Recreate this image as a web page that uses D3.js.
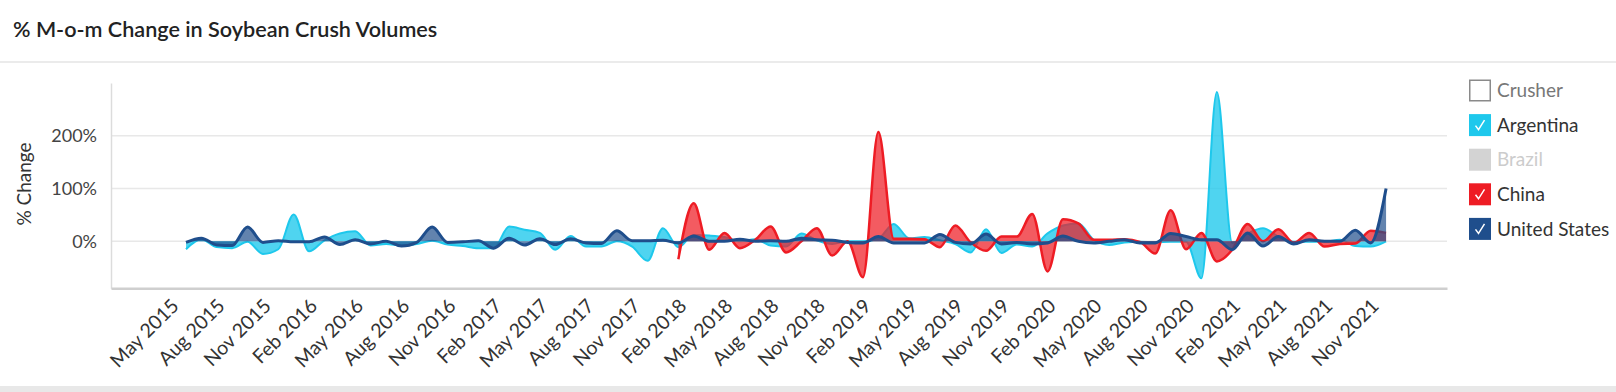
<!DOCTYPE html>
<html><head><meta charset="utf-8">
<script src="https://cdn.jsdelivr.net/npm/d3@7/dist/d3.min.js"></script>
<style>
html,body{margin:0;padding:0;background:#fff;overflow:hidden}
svg{display:block;font-family:Lato,"Open Sans",sans-serif}
</style></head><body>
<svg id="chart" width="1616" height="392"></svg>
<script>
// Month index 0 = Jun 2015, 78 = Dec 2021
const argentina = [-15,4,-11,-13,-1,-24,-15,51,-19,2,15,19,-8,-5,-8,-5,1,-6,-9,-13,-13,28,22,16,-16,10,-10,-10,
  0,-10,-37,25,-11,12,11,8,0,4,-8,-10,15,2,-5,0,0,5,33,6,8,2,-5,-21,23,-22,-6,-10,15,30,34,3,-7,-2,-1,-2,-1,-1,-70,283,-3,15,25,9,-1,-1,-1,3,-9,-10,0];
const unitedStates = [-2,6,-7,-8,27,-2,1,-1,-1,8,-6,3,-5,0,-9,-2,27,-2,-1,1,-13,6,-7,5,-6,5,-3,-4,
  20,1,1,2,-3,10,0,0,4,0,1,0,6,3,2,-2,-3,9,-3,-3,-3,13,-2,-5,14,-5,-2,-5,-3,10,0,-3,0,3,-3,-3,15,9,3,3,-16,16,-9,9,-5,3,0,0,21,-3,100];
const chinaStart = 32; // Feb 2018
const china = [-34,72,-16,16,-13,3,28,-21,0,25,-27,0,-68,207,5,5,4,-11,30,-2,-18,9,9,52,-57,42,34,3,3,4,-1,-23,59,-15,16,-38,-16,33,0,23,-3,16,-10,-5,-4,20,16];
const xTickLabels = ["May 2015","Aug 2015","Nov 2015","Feb 2016","May 2016","Aug 2016","Nov 2016","Feb 2017","May 2017","Aug 2017","Nov 2017",
  "Feb 2018","May 2018","Aug 2018","Nov 2018","Feb 2019","May 2019","Aug 2019","Nov 2019","Feb 2020","May 2020","Aug 2020","Nov 2020",
  "Feb 2021","May 2021","Aug 2021","Nov 2021"];
const xTickIndex = xTickLabels.map((d,i)=> -1 + 3*i);
const yTicks = [0,100,200];
const legendNames = ["Crusher","Argentina","Brazil","China","United States"];
const legendColors = [null,"#1ec8ec","#d3d3d3","#ee1c24","#1f4e8c"];

const svg = d3.select("#chart");
const W = 1616, H = 392;

// title & frame
svg.append("text").attr("x",13).attr("y",37).attr("font-size",21.6).attr("font-weight",600)
  .attr("fill","#222").text("% M-o-m Change in Soybean Crush Volumes");
svg.append("rect").attr("x",0).attr("y",61).attr("width",W).attr("height",2).attr("fill","#ebebeb");
svg.append("rect").attr("x",0).attr("y",386).attr("width",W).attr("height",6).attr("fill","#e8e8e8");

const x = d3.scaleLinear().domain([-4.875, 81.96]).range([111, 1447]);
const y = d3.scaleLinear().domain([-89, 300]).range([288.3, 83]);

// gridlines
svg.append("g").selectAll("line").data(yTicks).join("line")
  .attr("x1",111).attr("x2",1447).attr("y1",d=>y(d)).attr("y2",d=>y(d))
  .attr("stroke","#e8e8e8").attr("stroke-width",1.5);

// y axis
const gy = svg.append("g").attr("transform","translate(111,0)")
  .call(d3.axisLeft(y).tickValues(yTicks).tickFormat(d=>d+"%").tickSize(0).tickPadding(14));
gy.select(".domain").attr("stroke","#dcdcdc").attr("stroke-width",1.5);
gy.selectAll("text").attr("font-size",18).attr("fill","#444").attr("font-family","Lato");

svg.append("text").attr("transform","translate(31,184) rotate(-90)").attr("text-anchor","middle")
  .attr("font-size",19).attr("fill","#333").text("% Change");

// x axis
const gx = svg.append("g").attr("transform","translate(0,288.3)")
  .call(d3.axisBottom(x).tickValues(xTickIndex).tickFormat((d,i)=>xTickLabels[i]).tickSize(0));
gx.select(".domain").attr("stroke","#cfcfcf").attr("stroke-width",2.5);
gx.selectAll("text").attr("font-size",19.5).attr("fill","#333").attr("font-family","Lato")
  .attr("text-anchor","end").attr("y",0).attr("dy","0.35em")
  .attr("transform","translate(4,14) rotate(-45)");

// series
function series(values, offset, color, lw, op){
  const data = values.map((v,i)=>({i:i+offset, v}));
  const area = d3.area().curve(d3.curveMonotoneX).x(d=>x(d.i)).y0(y(0)).y1(d=>y(d.v));
  const line = d3.line().curve(d3.curveMonotoneX).x(d=>x(d.i)).y(d=>y(d.v));
  svg.append("path").datum(data).attr("d",area).attr("fill",color).attr("fill-opacity",op);
  svg.append("path").datum(data).attr("d",line).attr("fill","none").attr("stroke",color)
    .attr("stroke-width",lw).attr("stroke-linejoin","round");
}
series(argentina, 0, legendColors[1], 2, 0.78);
series(china, chinaStart, legendColors[3], 2.5, 0.72);
series(unitedStates, 0, legendColors[4], 3, 0.7);

// legend
const lg = svg.append("g").selectAll("g").data(legendNames).join("g")
  .attr("transform",(d,i)=>`translate(1469,${79.5 + i*34.6})`);
lg.append("rect").attr("x",(d,i)=>i===0?0.75:0).attr("y",(d,i)=>i===0?0.75:0)
  .attr("width",(d,i)=>i===0?20.5:22).attr("height",(d,i)=>i===0?20.5:22)
  .attr("fill",(d,i)=>legendColors[i] || "#fff")
  .attr("stroke",(d,i)=>i===0?"#8a8a8a":"none").attr("stroke-width",1.5);
lg.filter((d,i)=>i===1||i===3||i===4).append("path")
  .attr("d","M6.5,11.5 L9.5,15.5 L15.5,6").attr("fill","none").attr("stroke","#fff").attr("stroke-width",1.5);
lg.append("text").attr("x",28).attr("y",11).attr("dy","0.35em").attr("font-size",19)
  .attr("fill",(d,i)=>i===0?"#777":(i===2?"#cccccc":"#333")).text(d=>d);
</script>
</body></html>
